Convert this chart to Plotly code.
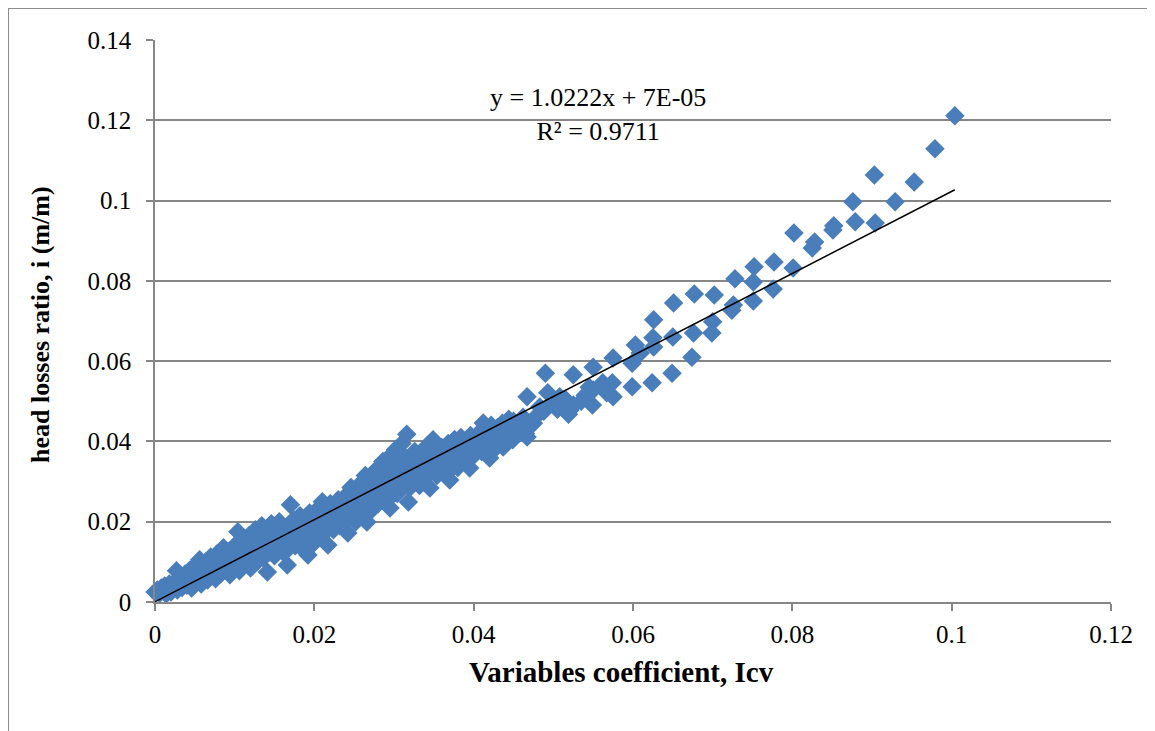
import plotly.graph_objects as go

# ---- data ----
icv = [
0.0000,0.0003,0.0006,0.0008,0.0010,0.0012,0.0014,0.0016,0.0018,0.0020,0.0022,0.0025,0.0027,0.0028,0.0030,0.0032,0.0034,0.0036,0.0038,0.0040,
0.0042,0.0044,0.0046,0.0048,0.0050,0.0052,0.0054,0.0056,0.0058,0.0060,0.0062,0.0064,0.0066,0.0068,0.0070,0.0072,0.0074,0.0076,0.0078,0.0080,
0.0082,0.0084,0.0086,0.0088,0.0090,0.0092,0.0094,0.0096,0.0098,0.0100,0.0102,0.0104,0.0106,0.0108,0.0110,0.0112,0.0114,0.0116,0.0118,0.0120,
0.0122,0.0124,0.0126,0.0128,0.0130,0.0132,0.0134,0.0136,0.0138,0.0141,0.0142,0.0144,0.0146,0.0148,0.0150,0.0152,0.0154,0.0156,0.0158,0.0160,
0.0162,0.0164,0.0166,0.0168,0.0170,0.0172,0.0174,0.0176,0.0178,0.0180,0.0182,0.0184,0.0186,0.0188,0.0190,0.0192,0.0194,0.0196,0.0198,0.0200,
0.0202,0.0204,0.0206,0.0208,0.0210,0.0212,0.0214,0.0216,0.0217,0.0218,0.0220,0.0222,0.0224,0.0226,0.0228,0.0230,0.0232,0.0234,0.0236,0.0238,
0.0240,0.0242,0.0244,0.0246,0.0248,0.0250,0.0252,0.0254,0.0256,0.0258,0.0260,0.0262,0.0264,0.0266,0.0268,0.0270,0.0272,0.0274,0.0276,0.0278,
0.0280,0.0282,0.0284,0.0286,0.0288,0.0290,0.0292,0.0295,0.0294,0.0296,0.0298,0.0300,0.0302,0.0304,0.0306,0.0308,0.0310,0.0312,0.0314,0.0316,
0.0318,0.0320,0.0322,0.0324,0.0326,0.0328,0.0330,0.0332,0.0334,0.0336,0.0338,0.0340,0.0342,0.0345,0.0346,0.0348,0.0349,0.0350,0.0352,0.0354,
0.0356,0.0358,0.0360,0.0362,0.0364,0.0366,0.0368,0.0370,0.0372,0.0374,0.0376,0.0378,0.0380,0.0382,0.0384,0.0386,0.0388,0.0390,0.0392,0.0395,
0.0396,0.0398,0.0400,0.0402,0.0404,0.0406,0.0408,0.0410,0.0412,0.0414,0.0416,0.0418,0.0420,0.0422,0.0424,0.0426,0.0428,0.0430,0.0432,0.0434,
0.0436,0.0437,0.0440,0.0442,0.0444,0.0446,0.0449,0.0450,0.0452,0.0456,0.0460,0.0462,0.0465,0.0467,0.0467,0.0475,0.0480,0.0483,0.0488,0.0490,
0.0493,0.0500,0.0505,0.0508,0.0512,0.0515,0.0519,0.0521,0.0525,0.0525,0.0535,0.0540,0.0545,0.0549,0.0550,0.0550,0.0562,0.0567,0.0574,0.0575,
0.0575,0.0599,0.0599,0.0603,0.0609,0.0624,0.0625,0.0626,0.0626,0.0649,0.0650,0.0651,0.0674,0.0676,0.0677,0.0699,0.0700,0.0702,0.0724,0.0726,
0.0728,0.0751,0.0751,0.0752,0.0776,0.0777,0.0801,0.0802,0.0825,0.0828,0.0851,0.0852,0.0876,0.0879,0.0903,0.0904,0.0929,0.0953,0.0979,0.1004,
]
head_loss = [
0.0025,0.0030,0.0022,0.0035,0.0028,0.0040,0.0020,0.0032,0.0045,0.0025,0.0038,0.0050,0.0078,0.0030,0.0045,0.0060,0.0036,0.0052,0.0070,0.0042,
0.0058,0.0080,0.0035,0.0062,0.0050,0.0090,0.0072,0.0105,0.0045,0.0065,0.0085,0.0100,0.0055,0.0078,0.0112,0.0068,0.0092,0.0058,0.0120,0.0085,
0.0070,0.0105,0.0135,0.0080,0.0095,0.0125,0.0068,0.0110,0.0088,0.0140,0.0100,0.0175,0.0078,0.0120,0.0155,0.0092,0.0108,0.0135,0.0165,0.0085,
0.0118,0.0150,0.0180,0.0100,0.0130,0.0160,0.0190,0.0110,0.0140,0.0075,0.0170,0.0125,0.0195,0.0152,0.0115,0.0140,0.0180,0.0200,0.0130,0.0160,
0.0122,0.0185,0.0092,0.0150,0.0242,0.0172,0.0205,0.0140,0.0190,0.0165,0.0215,0.0135,0.0180,0.0200,0.0155,0.0117,0.0222,0.0170,0.0195,0.0148,
0.0210,0.0185,0.0235,0.0165,0.0250,0.0200,0.0175,0.0225,0.0142,0.0190,0.0245,0.0210,0.0180,0.0230,0.0200,0.0255,0.0190,0.0220,0.0240,0.0205,
0.0265,0.0172,0.0230,0.0285,0.0215,0.0250,0.0200,0.0270,0.0235,0.0295,0.0220,0.0255,0.0315,0.0199,0.0245,0.0275,0.0230,0.0300,0.0260,0.0330,
0.0245,0.0285,0.0310,0.0350,0.0270,0.0300,0.0255,0.0234,0.0330,0.0365,0.0285,0.0315,0.0380,0.0270,0.0345,0.0300,0.0395,0.0325,0.0360,0.0418,
0.0249,0.0285,0.0340,0.0305,0.0375,0.0320,0.0355,0.0290,0.0335,0.0370,0.0310,0.0345,0.0390,0.0284,0.0330,0.0360,0.0404,0.0395,0.0340,0.0315,
0.0370,0.0350,0.0385,0.0330,0.0360,0.0320,0.0395,0.0304,0.0375,0.0345,0.0405,0.0360,0.0335,0.0390,0.0410,0.0370,0.0350,0.0400,0.0380,0.0334,
0.0415,0.0390,0.0365,0.0405,0.0380,0.0420,0.0395,0.0375,0.0446,0.0410,0.0390,0.0425,0.0359,0.0440,0.0400,0.0420,0.0385,0.0435,0.0410,0.0395,
0.0445,0.0386,0.0420,0.0440,0.0455,0.0428,0.0404,0.0450,0.0415,0.0446,0.0430,0.0460,0.0420,0.0411,0.0511,0.0445,0.0465,0.0486,0.0475,0.0570,
0.0521,0.0498,0.0480,0.0511,0.0490,0.0505,0.0468,0.0478,0.0491,0.0566,0.0500,0.0515,0.0535,0.0491,0.0528,0.0585,0.0546,0.0521,0.0546,0.0608,
0.0511,0.0595,0.0536,0.0640,0.0620,0.0546,0.0658,0.0635,0.0703,0.0570,0.0660,0.0745,0.0610,0.0670,0.0767,0.0670,0.0698,0.0765,0.0727,0.0740,
0.0805,0.0750,0.0797,0.0835,0.0780,0.0847,0.0832,0.0919,0.0882,0.0897,0.0927,0.0937,0.0997,0.0947,0.1064,0.0944,0.0997,0.1046,0.1129,0.1211,
]

x_ticks = [0, 0.02, 0.04, 0.06, 0.08, 0.1, 0.12]
y_ticks = [0, 0.02, 0.04, 0.06, 0.08, 0.1, 0.12, 0.14]
slope, intercept = 1.0222, 7e-05
fit_x = [0.0, max(icv)]
fit_y = [slope * v + intercept for v in fit_x]

FONT = "Liberation Serif"
GRID = "#868686"

fig = go.Figure()
fig.add_trace(go.Scatter(
    x=icv, y=head_loss, mode="markers",
    marker=dict(symbol="diamond", size=15, color="#4A7EBB", line=dict(width=0)),
    cliponaxis=False, showlegend=False, hoverinfo="skip"))
fig.add_trace(go.Scatter(
    x=fit_x, y=fit_y, mode="lines",
    line=dict(color="black", width=1.5), showlegend=False, hoverinfo="skip"))

# page is offset by the 8px body margin; work in page pixels below
OFF = 8
W, H = 1155 - OFF, 731 - OFF
L, R, T, B = 155 - OFF, 44, 40 - OFF, 129
pw, ph = W - L - R, H - T - B

def px(xp):  # page pixel x -> paper
    return (xp - OFF - L) / pw

def py(yp):  # page pixel y -> paper
    return (H - B - (yp - OFF)) / ph

fig.update_layout(
    width=W, height=H,
    margin=dict(l=L, r=R, t=T, b=B),
    paper_bgcolor="white", plot_bgcolor="white",
    font=dict(family=FONT, size=25, color="black"),
    xaxis=dict(range=[0, 0.12], tickvals=x_ticks, showgrid=False, zeroline=False,
               showline=True, linecolor=GRID, linewidth=1.5,
               ticks="outside", ticklen=7, tickcolor=GRID, tickwidth=1.5,
               ticklabelstandoff=2,
               tickfont=dict(family=FONT, size=25, color="black")),
    yaxis=dict(range=[0, 0.14], tickvals=y_ticks, showgrid=True, gridcolor=GRID, gridwidth=1.5,
               zeroline=False, showline=True, linecolor=GRID, linewidth=1.5,
               ticks="outside", ticklen=7, tickcolor=GRID, tickwidth=1.5,
               ticklabelstandoff=10,
               tickfont=dict(family=FONT, size=25, color="black")),
    annotations=[
        dict(text="y = 1.0222x + 7E-05<br>R² = 0.9711", xref="paper", yref="paper",
             x=px(598), y=py(114), xanchor="center", yanchor="middle", showarrow=False,
             align="center", font=dict(family=FONT, size=26, color="black")),
        dict(text="<b>Variables coefficient, Icv</b>", xref="paper", yref="paper",
             x=px(621), y=py(672), xanchor="center", yanchor="middle", showarrow=False,
             font=dict(family=FONT, size=29, color="black")),
        dict(text="<b>head losses ratio, i (m/m)</b>", xref="paper", yref="paper",
             x=px(40), y=py(325), xanchor="center", yanchor="middle", showarrow=False,
             textangle=-90, font=dict(family=FONT, size=26, color="black")),
    ],
    shapes=[
        dict(type="line", xref="paper", yref="paper", x0=px(8), x1=px(1160), y0=py(8), y1=py(8),
             line=dict(color="#8C8C8C", width=2)),
        dict(type="line", xref="paper", yref="paper", x0=px(8), x1=px(8), y0=py(8), y1=py(740),
             line=dict(color="#8C8C8C", width=2)),
    ],
)

fig.write_html("out.html")
